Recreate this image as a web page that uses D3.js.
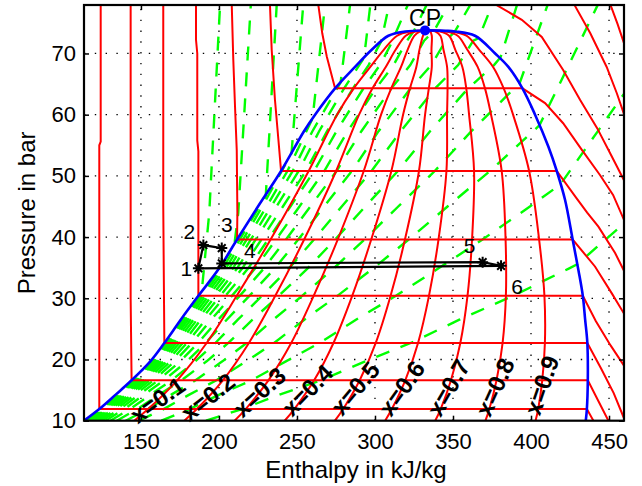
<!DOCTYPE html>
<html><head><meta charset="utf-8">
<script src="https://cdn.jsdelivr.net/npm/d3@7"></script>
<style>body{margin:0;background:#fff}svg{display:block}</style>
</head><body>
<svg id="chart" width="642" height="486"></svg>
<script>
// ================= DATA =================
const xTicks = [150, 200, 250, 300, 350, 400, 450];
const yTicks = [10, 20, 30, 40, 50, 60, 70];
const hDomain = [113.5, 459.6];
const pDomain = [10, 77.92];

// saturation dome [h, p]
const satLiquid = [[113.5,10],[123.3,11.9],[134,14.3],[144,16.6],[156,19.7],[165,22.7],[175.5,26.5],[186.8,30.4],[200,34.85],[211.6,39.6],[225,45],[239.8,50.8],[254.5,57.3],[261.6,60],[274.4,64.3],[287.2,67.8],[297.9,70.6],[308.6,72.9],[319.4,73.6],[332.1,73.77]];
const satVapor = [[332.1,73.77],[345,73.7],[351.3,73.6],[364.1,72.9],[377,70],[385.5,67.8],[394.5,64.3],[402.6,60],[411.1,54.8],[416.5,50.8],[421.8,46.1],[426.7,39.6],[430.4,34.6],[433.2,30.4],[434.7,26.5],[436.1,22.7],[436.4,16.6],[435.8,11.9],[435.1,10]];
const criticalPoint = [332.1, 73.77];

// isotherms (deg C) [h, p]
const isothermTemps = [-35, -25, -15, -5, 5, 15, 25, 35, 45, 55];
const isothermCurves = [
  [[124.2,77.9],[124.2,55.6],[123.3,55],[123.3,11.9],[435.8,11.9],[440,10]],
  [[143.4,77.9],[143.4,30],[144,16.6],[436.4,16.6],[443,13.3],[449.6,10]],
  [[164.3,77.9],[164.3,45],[165,22.7],[436.1,22.7],[445,18.5],[453,14.5],[459.6,10.4]],
  [[185.3,77.9],[185.3,72.2],[186.1,70],[186.1,55.8],[186.8,54],[186.8,30.4],[433.2,30.4],[441.5,26.3],[451,22.3],[459.6,19]],
  [[208.2,77.9],[209.2,68.9],[210.3,61.3],[211.4,54.2],[211.8,44],[211.6,39.6],[426.7,39.6],[441,35.2],[451.8,30.8],[459.6,27.5]],
  [[232.7,77.9],[233.8,70.6],[235.9,62.4],[238.1,55.9],[239.8,50.8],[416.5,50.8],[429,46.4],[436,44],[443.2,41.7],[453.9,37.4],[459.6,34.5]],
  [[263.7,77.9],[266.2,73.3],[269.1,69.5],[274.4,64.3],[394.5,64.3],[409,61.9],[420.6,58.6],[432.7,54.2],[444.3,50.1],[452.6,46.9],[459.6,42.8]],
  [[378,77.9],[394.1,75.5],[406.9,72.7],[420.6,67.3],[431.5,62.4],[442.4,57.8],[451.3,53.4],[459.6,49.3]],
  [[427.9,77.9],[438,73.3],[448.5,67.8],[455,63.5],[459.6,60.1]],
  [[451,77.9],[455.5,74.8],[459.6,71.7]]
];

// vapour quality lines: h at qualityP
const qualityValues = [0.1, 0.2, 0.3, 0.4, 0.5, 0.6, 0.7, 0.8, 0.9];
const qualityP = [10, 11.9, 16.6, 22.7, 30.4, 39.6, 50.8, 60, 64.3, 67.8, 70.6, 72.9, 73.6, 73.77];
const qualityH = [
  [145.7,154.6,173.2,192.1,211.4,233.1,257.5,275.7,286.4,297.0,305.6,314.2,322.6,332.1],
  [177.8,185.8,202.5,219.2,236.1,254.6,275.1,289.8,298.4,306.9,313.2,319.7,325.8,332.1],
  [210.0,217.1,231.7,246.3,260.7,276.1,292.8,303.9,310.4,316.7,320.9,325.3,329.0,332.1],
  [242.1,248.3,261.0,273.4,285.4,297.6,310.5,318.0,322.4,326.5,328.5,330.8,332.2,332.1],
  [274.3,279.6,290.2,300.5,310.0,319.2,328.2,332.1,334.5,336.4,336.2,336.4,335.4,332.1],
  [306.5,310.8,319.4,327.6,334.6,340.7,345.8,346.2,346.5,346.2,343.9,341.9,338.5,332.1],
  [338.6,342.1,348.7,354.7,359.3,362.2,363.5,360.3,358.5,356.0,351.5,347.5,341.7,332.1],
  [370.8,373.3,377.9,381.8,383.9,383.7,381.2,374.4,370.5,365.8,359.2,353.0,344.9,332.1],
  [402.9,404.6,407.2,408.9,408.6,405.2,398.8,388.5,382.5,375.7,366.8,358.6,348.1,332.1]
];
const qualityLabelP = [13.4, 13.9, 14.7, 15.0, 15.3, 15.3, 15.4, 15.5, 15.8];

// isochores (kg/m3): two-phase h at isochoreP, then single-phase tail [h, p]
const isochoreRho = [100,150,200,250,300,350,400,450,500,550,600,650,700,750,800,850,900,950];
const isochoreP = [10,11.9,14.3,16.6,19.7,22.7,26.5,30.4,34.85,39.6,45,50.8,57.3,64.3,68.1,72.1];
const isochoreH = [
  [191.7,214.8,239.3,265.5,293.8,322.9,354.1,388.5,424.2],
  [163.1,181.2,200.6,220.8,242.9,264.5,287.8,313.4,340.5,368.9,399.3],
  [148.8,164.5,181.3,198.4,217.5,235.3,254.7,275.9,298.6,321.6,346.5,373.7,401.4],
  [140.2,154.4,169.7,185,202.2,217.7,234.8,253.3,273.4,293.3,314.9,338.3,361.8,389.3],
  [134.5,147.7,161.9,176,192.1,206,221.5,238.3,256.7,274.4,293.8,314.7,335.3,359.7,376.3],
  [130.4,142.9,156.4,169.6,184.8,197.7,212.1,227.6,244.7,260.9,278.7,297.8,316.5,338.6,353.3,363],
  [127.3,139.3,152.2,164.8,179.4,191.4,205,219.5,235.7,250.8,267.4,285.2,302.3,322.8,336.1,345.3],
  [124.9,136.5,149,161.1,175.1,186.6,199.5,213.3,228.7,242.9,258.6,275.4,291.3,310.5,322.6,331.5],
  [123,134.3,146.4,158.1,171.7,182.7,195,208.3,223.1,236.6,251.6,267.5,282.5,300.6,311.9,320.5],
  [121.4,132.4,144.3,155.7,169,179.5,191.4,204.2,218.6,231.5,245.8,261,275.3,292.6,303.2,311.4],
  [120.1,130.9,142.6,153.6,166.7,176.8,188.4,200.8,214.8,227.2,241,255.7,269.3,285.9,295.9],
  [119,129.6,141.1,151.9,164.7,174.6,185.9,197.9,211.5,223.5,236.9,251.1,264.2,280.2],
  [118.1,128.5,139.8,150.4,163,172.7,183.7,195.4,208.8,220.4,233.5,247.3,259.9],
  [117.3,127.5,138.7,149.1,161.5,171,181.8,193.3,206.4,217.7,230.5,243.9],
  [116.6,126.7,137.7,148,160.3,169.5,180.1,191.4,204.3,215.4,227.8],
  [115.9,126,136.9,147,159.2,168.2,178.7,189.7,202.4,213.3],
  [115.4,125.3,136.1,146.2,158.2,167.1,177.4,188.3,200.8],
  [114.9,124.7,135.5,145.4,157.3,166.1,176.2,186.9]
];
const isochoreTail = [
  [[429.9,35.6],[445,39],[459.6,42.2]],
  [[418.8,48.6],[443.1,57.4],[459.6,63.4]],
  [[405.5,58.3],[424,68],[442.7,77.9]],
  [[392.5,65],[410.6,77.9]],
  [[380.5,69.4],[391,77.9]],
  [[366.5,72.5],[375,77.9]],
  [[351,73.5],[361,77.9]],
  [[338,73.75],[347,77.9]],
  [[325,73.7],[333,77.9]],
  [[313,73.2],[321,77.9]],
  [[304,72],[309,77.9]],
  [[293,69.3],[297,77.9]],
  [[278,65.3],[284,77.9]],
  [[260,59.4],[268,77.9]],
  [[246.5,53.7],[254,77.9]],
  [[230,46.7],[237,77.9]],
  [[210,39],[212.4,44],[220.4,77.9]],
  [[189,31.2],[193.8,44],[200.7,77.9]]
];

// refrigeration cycle state points
const cycleLabels = ["1", "2", "3", "4", "5", "6"];
const cycleH = [186.8, 190.0, 201.8, 201.8, 369.0, 380.8];
const cycleP = [34.9, 38.7, 38.2, 35.7, 35.9, 35.3];

// ================= LAYOUT =================
const plot = {left: 84, right: 624, top: 5, bottom: 420.7};
const cycleLabelOffset = [[-12, 8], [-14, -6], [5, -16], [28, -5], [-13, -9], [16, 28]];
const FONT = "'Liberation Sans', Arial, Helvetica, sans-serif";

const svg = d3.select('#chart');
const x = d3.scaleLinear().domain(hDomain).range([plot.left, plot.right]);
const y = d3.scaleLinear().domain(pDomain).range([plot.bottom, plot.top]);

svg.append('defs').append('clipPath').attr('id', 'clip')
  .append('rect').attr('x', plot.left).attr('y', plot.top)
  .attr('width', plot.right - plot.left).attr('height', plot.bottom - plot.top);

// grid
const grid = svg.append('g').attr('stroke', '#000').attr('stroke-width', 1.3)
  .attr('stroke-dasharray', '1.4 9.4');
grid.selectAll('.gx').data(xTicks).enter().append('line')
  .attr('x1', d => x(d)).attr('x2', d => x(d)).attr('y1', plot.bottom).attr('y2', plot.top);
grid.selectAll('.gy').data(yTicks.filter(d => d > pDomain[0])).enter().append('line')
  .attr('y1', d => y(d)).attr('y2', d => y(d)).attr('x1', plot.left).attr('x2', plot.right);

const g = svg.append('g').attr('clip-path', 'url(#clip)');
const lineXY = d3.line().x(d => x(d[0])).y(d => y(d[1]));
const smooth = d3.line().x(d => x(d[0])).y(d => y(d[1])).curve(d3.curveCatmullRom.alpha(0.5));

// isochores (green dashed)
const isoPaths = isochoreRho.map((rho, i) =>
  isochoreH[i].map((h, k) => [h, isochoreP[k]]).concat(isochoreTail[i]));
g.append('g').selectAll('path').data(isoPaths).enter().append('path')
  .attr('d', lineXY).attr('fill', 'none').attr('stroke', '#00ff00')
  .attr('stroke-width', 2.4).attr('stroke-dasharray', '14 12');

// isotherms (red)
g.append('g').selectAll('path').data(isothermCurves).enter().append('path')
  .attr('d', lineXY).attr('fill', 'none').attr('stroke', '#ff0000').attr('stroke-width', 2);

// quality lines (red)
const qualityPaths = qualityH.map(row => row.map((h, k) => [h, qualityP[k]]));
g.append('g').selectAll('path').data(qualityPaths).enter().append('path')
  .attr('d', smooth).attr('fill', 'none').attr('stroke', '#ff0000').attr('stroke-width', 2);

// saturation dome (blue)
g.append('path').datum(satLiquid.concat(satVapor.slice(1)))
  .attr('d', smooth).attr('fill', 'none').attr('stroke', '#0000ff').attr('stroke-width', 2.6);

// critical point
svg.append('circle').attr('cx', x(criticalPoint[0])).attr('cy', y(criticalPoint[1]))
  .attr('r', 5).attr('fill', '#0000ff');
svg.append('text').attr('x', x(criticalPoint[0])).attr('y', y(criticalPoint[1]) - 4)
  .attr('text-anchor', 'middle').attr('font-family', FONT).attr('font-size', 23).text('CP');

// cycle
const cyc = cycleH.map((h, i) => [h, cycleP[i]]);
svg.append('path').datum(cyc.concat([cyc[0]])).attr('d', lineXY)
  .attr('fill', 'none').attr('stroke', '#000').attr('stroke-width', 2.2);
const star = r => `M${-r},0L${r},0M0,${-r}L0,${r}M${-r*0.7},${-r*0.7}L${r*0.7},${r*0.7}M${-r*0.7},${r*0.7}L${r*0.7},${-r*0.7}`;
svg.append('g').selectAll('path').data(cyc).enter().append('path')
  .attr('transform', d => `translate(${x(d[0])},${y(d[1])})`)
  .attr('d', star(5.5)).attr('stroke', '#000').attr('stroke-width', 2);
svg.append('g').selectAll('text').data(cyc).enter().append('text')
  .attr('x', (d, i) => x(d[0]) + cycleLabelOffset[i][0])
  .attr('y', (d, i) => y(d[1]) + cycleLabelOffset[i][1])
  .attr('text-anchor', 'middle').attr('font-family', FONT).attr('font-size', 21)
  .text((d, i) => cycleLabels[i]);

// quality labels
qualityValues.forEach((q, i) => {
  const pts = qualityPaths[i];
  const pL = qualityLabelP[i];
  let k = 0; while (k < pts.length - 2 && pts[k + 1][1] < pL) k++;
  const a = pts[k], b = pts[k + 1];
  const t = (pL - a[1]) / (b[1] - a[1]);
  const hL = a[0] + t * (b[0] - a[0]);
  const ang = Math.atan2(y(b[1]) - y(a[1]), x(b[0]) - x(a[0])) * 180 / Math.PI;
  const rot = 0.954 * ang + 7.2;
  svg.append('text')
    .attr('transform', `translate(${x(hL)},${y(pL)}) rotate(${rot})`)
    .attr('text-anchor', 'middle').attr('dy', '0.36em')
    .attr('font-family', FONT).attr('font-size', 24).attr('font-weight', 'bold')
    .text('x=' + q);
});

// axes
function styleAxis(sel) {
  sel.select('.domain').remove();
  sel.selectAll('line').attr('stroke', '#000').attr('stroke-width', 1.5);
  sel.attr('font-family', FONT).attr('font-size', 22);
  sel.selectAll('text').attr('fill', '#000');
}
svg.append('g').attr('transform', `translate(0,${plot.bottom})`)
  .call(d3.axisBottom(x).tickValues(xTicks).tickSizeInner(-5).tickSizeOuter(0).tickPadding(13)).call(styleAxis);
svg.append('g').attr('transform', `translate(0,${plot.top})`)
  .call(d3.axisTop(x).tickValues(xTicks).tickSizeInner(-5).tickSizeOuter(0).tickFormat('')).call(styleAxis);
svg.append('g').attr('transform', `translate(${plot.left},0)`)
  .call(d3.axisLeft(y).tickValues(yTicks).tickSizeInner(-5).tickSizeOuter(0).tickPadding(8)).call(styleAxis);
svg.append('g').attr('transform', `translate(${plot.right},0)`)
  .call(d3.axisRight(y).tickValues(yTicks).tickSizeInner(-5).tickSizeOuter(0).tickFormat('')).call(styleAxis);

svg.append('rect').attr('x', plot.left).attr('y', plot.top)
  .attr('width', plot.right - plot.left).attr('height', plot.bottom - plot.top)
  .attr('fill', 'none').attr('stroke', '#000').attr('stroke-width', 2.2);

// axis titles
svg.append('text').attr('x', 356).attr('y', 478).attr('text-anchor', 'middle')
  .attr('font-family', FONT).attr('font-size', 24).text('Enthalpy in kJ/kg');
svg.append('text').attr('transform', `translate(35,${(plot.top + plot.bottom) / 2}) rotate(-90)`)
  .attr('text-anchor', 'middle').attr('font-family', FONT).attr('font-size', 24).text('Pressure in bar');
</script>
</body></html>
